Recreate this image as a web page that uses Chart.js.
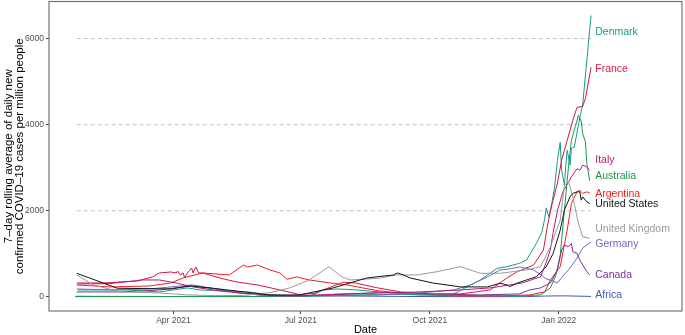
<!DOCTYPE html>
<html>
<head>
<meta charset="utf-8">
<script src="https://cdn.jsdelivr.net/npm/chart.js@4/dist/chart.umd.min.js"></script>
<style>
  html, body { margin: 0; padding: 0; background: #fff; }
  #chart { display: block; }
</style>
</head>
<body>
<canvas id="chart" width="685" height="335"></canvas>
<script>
const FONT = "'Liberation Sans', Arial, sans-serif";

// x values are days counted from 1 Jan 2021
const tickDays = [90, 181, 273, 365];
const tickLabels = ['Apr 2021', 'Jul 2021', 'Oct 2021', 'Jan 2022'];
const yTicks = [0, 2000, 4000, 6000];
const refLevels = [2000, 4000, 6000];
const refSpan = [21, 388];

const countries = ['United States', 'United Kingdom', 'Italy', 'Germany', 'France',
  'Denmark', 'Canada', 'Australia', 'Argentina', 'Africa'];
const colors = ['#141414', '#9a9a9a', '#b5197a', '#7368bd', '#d3183f',
  '#17998a', '#7d2d99', '#1a9a4c', '#f81c1c', '#4459ad'];
// where the end labels sit (value axis), all at the same day
const labelValues = [2155, 1583, 3175, 1228, 5283, 6147, 510, 2804, 2387, 46];
const labelDay = 391;

// [day, 7-day average cases per million]
const unitedStates = [[21,549],[50,202],[88,185],[102,255],[116,209],[159,46],[180,46],[204,209],
  [228,440],[247,510],[250,556],[254,510],[259,440],[275,324],[295,232],[314,232],[323,317],[328,278],
  [330,239],[335,317],[342,394],[349,470],[356,702],[361,1013],[366,1552],[369,2016],[373,2324],
  [375,2403],[378,2440],[380,2440],[381,2247],[382,2324],[385,2208],[387,2171]];
const unitedKingdom = [[21,510],[33,278],[52,116],[80,93],[100,46],[120,30],[140,35],[159,100],
  [173,209],[187,394],[201,702],[210,470],[216,394],[237,433],[249,510],[264,510],[278,586],[295,702],
  [309,549],[323,549],[342,626],[352,702],[359,1165],[366,1784],[369,2595],[372,2671],[375,2324],
  [379,1708],[382,1397],[387,1360]];
const italy = [[22,300],[45,310],[68,394],[80,394],[92,324],[104,232],[123,139],[151,46],[180,23],
  [209,70],[237,93],[266,116],[295,162],[316,209],[339,324],[352,470],[356,800],[359,1100],[361,1500],
  [364,2000],[368,2450],[372,2670],[374,2790],[378,2980],[380,2940],[382,3060],[385,3020],[387,2940]];
const germany = [[21,185],[45,162],[73,185],[95,255],[104,278],[116,209],[137,93],[159,23],[202,23],
  [237,46],[266,93],[290,162],[302,278],[314,463],[323,626],[330,650],[337,695],[347,626],[352,520],
  [356,417],[360,380],[364,324],[368,487],[373,672],[378,904],[382,1135],[388,1274]];
const france = [[21,324],[40,324],[64,370],[75,463],[80,556],[88,579],[92,556],[93,600],[95,510],
  [97,556],[98,440],[100,556],[103,672],[104,556],[106,695],[108,556],[111,556],[123,440],[135,348],
  [150,278],[166,162],[180,55],[190,80],[200,200],[211,340],[220,324],[234,220],[252,116],[273,70],
  [295,70],[316,162],[328,440],[335,579],[347,741],[354,1089],[357,1668],[360,2131],[364,2641],
  [367,3174],[371,3638],[375,4101],[378,4402],[382,4425],[384,4610],[388,5329]];
const denmark = [[22,162],[57,162],[80,116],[100,209],[109,162],[143,116],[159,46],[187,12],[197,162],
  [207,185],[221,162],[237,116],[266,46],[290,70],[298,209],[309,394],[321,665],[328,702],[337,781],
  [342,857],[349,1244],[353,1506],[355,1830],[356,2062],[358,1854],[360,2178],[362,2549],[364,3174],
  [366,3591],[367,2943],[369,2595],[370,3058],[371,3406],[373,3058],[374,3452],[376,3475],[379,3985],
  [380,4171],[382,4449],[388,6534]];
const canada = [[21,116],[52,116],[80,162],[102,255],[116,209],[137,93],[166,23],[202,46],[237,100],
  [273,70],[309,46],[337,70],[344,162],[352,209],[359,324],[364,626],[367,1089],[369,1205],[372,1165],
  [374,1244],[375,1050],[378,1013],[380,857],[385,586],[387,510]];
const australia = [[20,7],[180,12],[216,46],[252,58],[288,35],[337,23],[352,46],[359,209],[363,510],
  [366,973],[368,1669],[370,2363],[372,3058],[374,3637],[377,3985],[379,4217],[381,4080],[382,3800],
  [384,3600],[385,3100],[387,2700]];
const argentina = [[21,278],[45,232],[73,255],[88,324],[97,440],[111,556],[130,510],[140,741],[143,695],
  [150,741],[159,626],[166,556],[171,410],[178,463],[187,394],[202,324],[214,278],[225,209],[237,139],
  [252,93],[273,46],[295,23],[323,23],[344,46],[355,116],[359,394],[366,702],[371,1552],[374,2171],
  [378,2440],[380,2479],[382,2403],[385,2440],[387,2417]];
const africa = [[20,15],[45,12],[100,8],[150,10],[190,25],[210,22],[250,12],[300,5],[340,6],[355,20],
  [368,25],[388,12]];

const series = [unitedStates, unitedKingdom, italy, germany, france, denmark, canada, australia, argentina, africa];

const datasets = countries.map((name, i) => ({
  label: name,
  data: series[i],
  borderColor: colors[i],
  borderWidth: 1,
  pointRadius: 0,
  tension: 0,
  fill: false
}));
refLevels.forEach(v => datasets.push({
  label: 'ref' + v,
  data: refSpan.map(d => [d, v]),
  borderColor: '#c2c2c2',
  borderWidth: 1,
  borderDash: [4, 3],
  pointRadius: 0
}));

const panelBorder = {
  id: 'panelBorder',
  afterDraw(chart) {
    const { ctx, chartArea: a } = chart;
    ctx.save();
    ctx.strokeStyle = '#6b6b6b';
    ctx.lineWidth = 1.1;
    ctx.strokeRect(a.left, a.top, a.right - a.left, a.bottom - a.top);
    ctx.restore();
  }
};

const endLabels = {
  id: 'endLabels',
  afterDatasetsDraw(chart) {
    const { ctx, scales: { x, y } } = chart;
    ctx.save();
    ctx.font = '10.5px ' + FONT;
    ctx.textAlign = 'left';
    ctx.textBaseline = 'middle';
    countries.forEach((name, i) => {
      ctx.fillStyle = colors[i];
      ctx.fillText(name, x.getPixelForValue(labelDay), y.getPixelForValue(labelValues[i]));
    });
    ctx.restore();
  }
};

new Chart(document.getElementById('chart'), {
  type: 'line',
  data: { datasets },
  plugins: [endLabels, panelBorder],
  options: {
    responsive: false,
    animation: false,
    devicePixelRatio: 1,
    layout: { padding: { top: 1.5, right: 3, left: 0, bottom: 0 } },
    plugins: { legend: { display: false }, tooltip: { enabled: false } },
    scales: {
      x: {
        type: 'linear',
        min: 1.24,
        max: 452.9,
        afterFit(s) { s.height = 24; s.paddingLeft = 0; s.paddingRight = 0; },
        afterBuildTicks(s) { s.ticks = tickDays.map(v => ({ value: v })); },
        grid: { drawOnChartArea: false, drawTicks: true, tickLength: 3, color: '#444' },
        border: { display: false },
        ticks: {
          autoSkip: false, maxRotation: 0, padding: 2, color: '#4d4d4d',
          font: { family: FONT, size: 8.5 },
          callback: v => tickLabels[tickDays.indexOf(v)]
        },
        title: { display: true, text: 'Date', color: '#000', font: { family: FONT, size: 11, lineHeight: 1 }, padding: 0 }
      },
      y: {
        min: -327,
        max: 6861,
        afterFit(s) { s.width = 49; s.paddingTop = 0; s.paddingBottom = 0; },
        afterBuildTicks(s) { s.ticks = yTicks.map(v => ({ value: v })); },
        grid: { drawOnChartArea: false, drawTicks: true, tickLength: 3, color: '#444' },
        border: { display: false },
        ticks: {
          padding: 2, color: '#4d4d4d',
          font: { family: FONT, size: 8.5 },
          callback: v => String(v)
        },
        title: {
          display: true,
          text: ['7\u2013day rolling average of daily new', 'confirmed COVID\u201319 cases per million people'],
          color: '#000',
          font: { family: FONT, size: 11.5, lineHeight: 1 },
          padding: { top: 3, bottom: 0 }
        }
      }
    }
  }
});
</script>
</body>
</html>
